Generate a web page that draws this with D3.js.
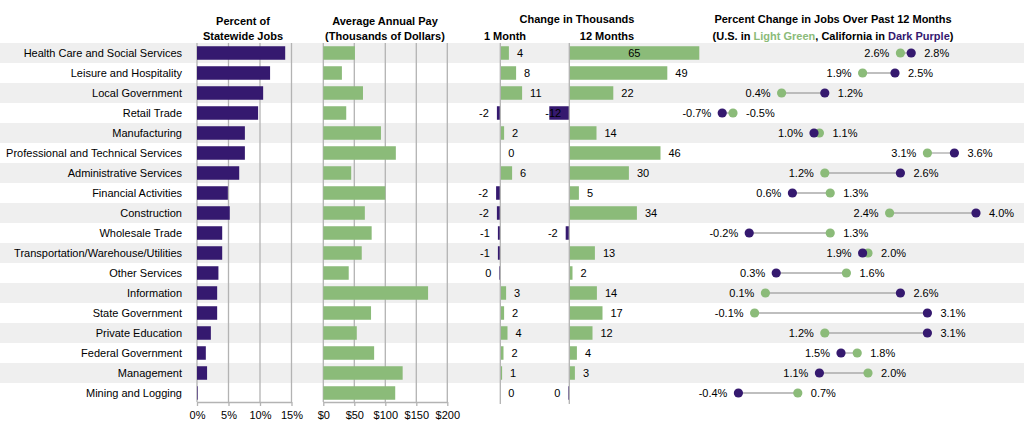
<!DOCTYPE html>
<html>
<head>
<meta charset="utf-8">
<script src="https://cdn.jsdelivr.net/npm/d3@7/dist/d3.min.js"></script>
<style>
  body { margin: 0; background: #fff; }
  text { font-family: Arial, "Liberation Sans", sans-serif; fill: #000; }
</style>
</head>
<body>
<div class="chart"></div>
<script>
var industries = [
    "Health Care and Social Services", "Leisure and Hospitality", "Local Government", "Retail Trade",
    "Manufacturing", "Professional and Technical Services", "Administrative Services", "Financial Activities",
    "Construction", "Wholesale Trade", "Transportation/Warehouse/Utilities", "Other Services",
    "Information", "State Government", "Private Education", "Federal Government", "Management", "Mining and Logging"
];
var shareOfJobs = [14.0, 11.6, 10.5, 9.7, 7.6, 7.6, 6.7, 4.9, 5.2, 4.0, 4.0, 3.4, 3.2, 3.2, 2.2, 1.4, 1.6, 0.1];
var avgPay = [51, 30, 64, 37, 93, 117, 45, 100, 67, 78, 62, 41, 169, 77, 54, 82, 128, 116];
var change1Month = [4.3, 7.9, 10.9, -1.7, 1.9, 0, 5.9, -2.1, -1.7, -1.2, -1.2, -0.5, 2.9, 1.9, 3.6, 1.6, 0.9, 0];
var change12Month = [65, 49, 22, -12, 13.6, 45.6, 29.8, 4.8, 33.8, -1.8, 12.8, 1.6, 13.8, 16.6, 11.6, 3.8, 2.8, -0.5];
var usChange = [2.6, 1.9, 0.4, -0.5, 1.1, 3.1, 1.2, 1.3, 2.4, 1.3, 2.0, 1.6, 0.1, -0.1, 1.2, 1.8, 2.0, 0.7];
var caChange = [2.8, 2.5, 1.2, -0.7, 1.0, 3.6, 2.6, 0.6, 4.0, -0.2, 1.9, 0.3, 2.6, 3.1, 3.1, 1.5, 1.1, -0.4];
var shareTicks = [0, 5, 10, 15];
var payTicks = [0, 50, 100, 150, 200];

var width = 1031;
var height = 441;
var purple = "#35196f";
var green = "#8bbb79";
var gridColor = "#b3b3b3";

var rows = industries.map(function(name, i) {
    return {
        name: name, share: shareOfJobs[i], pay: avgPay[i],
        m1: change1Month[i], m12: change12Month[i],
        us: usChange[i], ca: caChange[i], i: i
    };
});

var y = d3.scaleBand().domain(industries).range([43, 403]);
var barH = 13.5;
function yBar(d) { return y(d.name) + (y.bandwidth() - barH) / 2; }
function yMid(d) { return y(d.name) + y.bandwidth() / 2; }

var xShare = d3.scaleLinear().domain([0, 15]).range([197, 291.5]);
var xPay = d3.scaleLinear().domain([0, 200]).range([323.3, 447.3]);
var xM1 = d3.scaleLinear().domain([-5, 15]).range([490.3, 530.3]);
var xM12 = d3.scaleLinear().domain([-10, 65]).range([549.3, 699.3]).clamp(true);
var xPct = d3.scaleLinear().domain([-1, 4.5]).range([706, 1003]);

var svg = d3.select(".chart").append("svg")
    .attr("width", width)
    .attr("height", height);

// row shading
svg.append("g").selectAll("rect")
    .data(rows.filter(function(d) { return d.i % 2 === 0; }))
    .enter().append("rect")
    .attr("x", 0)
    .attr("y", function(d) { return y(d.name); })
    .attr("width", 1024)
    .attr("height", y.bandwidth())
    .attr("fill", "#efefef");

// row labels
svg.append("g").selectAll("text")
    .data(rows)
    .enter().append("text")
    .attr("x", 182)
    .attr("y", yMid)
    .attr("dy", "0.35em")
    .attr("text-anchor", "end")
    .style("font-size", "11px")
    .text(function(d) { return d.name; });

// headers
function header(x, yy, txt) {
    return svg.append("text")
        .attr("x", x).attr("y", yy)
        .attr("text-anchor", "middle")
        .style("font-size", "11px")
        .style("font-weight", "bold")
        .text(txt);
}
header(243, 25, "Percent of");
header(243, 40, "Statewide Jobs");
header(385, 25, "Average Annual Pay");
header(385, 40, "(Thousands of Dollars)");
header(577, 23, "Change in Thousands");
header(505, 40, "1 Month");
header(607, 40, "12 Months");
header(833, 23, "Percent Change in Jobs Over Past 12 Months");
var sub = header(833, 40, "");
sub.append("tspan").text("(U.S. in ");
sub.append("tspan").style("fill", green).text("Light Green");
sub.append("tspan").text(", California in ");
sub.append("tspan").style("fill", purple).text("Dark Purple");
sub.append("tspan").text(")");

// gridlines + axes for first two panels
function gridAxis(scale, ticks, fmt) {
    svg.append("g").selectAll("line")
        .data(ticks)
        .enter().append("line")
        .attr("x1", scale).attr("x2", scale)
        .attr("y1", 43).attr("y2", 402)
        .attr("stroke", gridColor)
        .attr("stroke-width", 1.3);
    var ax = svg.append("g")
        .attr("transform", "translate(0,402)")
        .call(d3.axisBottom(scale).tickValues(ticks).tickFormat(fmt).tickSize(4).tickSizeOuter(0));
    ax.selectAll("path, line").attr("stroke", gridColor).attr("stroke-width", 1.3);
    ax.selectAll("text").style("font-size", "11px").style("font-family", "Arial, 'Liberation Sans', sans-serif").attr("fill", "#000").attr("dy", "0.9em");
}
gridAxis(xShare, shareTicks, function(d) { return d + "%"; });
gridAxis(xPay, payTicks, function(d) { return "$" + d; });

// share bars
svg.append("g").selectAll("rect")
    .data(rows)
    .enter().append("rect")
    .attr("x", xShare(0))
    .attr("y", yBar)
    .attr("width", function(d) { return xShare(d.share) - xShare(0); })
    .attr("height", barH)
    .attr("fill", purple);

// pay bars
svg.append("g").selectAll("rect")
    .data(rows)
    .enter().append("rect")
    .attr("x", xPay(0))
    .attr("y", yBar)
    .attr("width", function(d) { return xPay(d.pay) - xPay(0); })
    .attr("height", barH)
    .attr("fill", green);

// change panels
function changePanel(scale, key, maxRight) {
    var x0 = scale(0);
    var g = svg.append("g");
    g.selectAll("rect")
        .data(rows)
        .enter().append("rect")
        .attr("x", function(d) { return Math.min(x0, scale(d[key])); })
        .attr("y", yBar)
        .attr("width", function(d) { return Math.abs(scale(d[key]) - x0); })
        .attr("height", barH)
        .attr("fill", function(d) { return d[key] < 0 ? purple : green; });
    g.append("line")
        .attr("x1", x0).attr("x2", x0)
        .attr("y1", 43).attr("y2", 404)
        .attr("stroke", gridColor)
        .attr("stroke-width", 1.3);
    g.selectAll("text")
        .data(rows)
        .enter().append("text")
        .attr("y", yMid)
        .attr("dy", "0.35em")
        .style("font-size", "11px")
        .attr("x", function(d) {
            var v = d[key], xe = scale(v);
            if (v < scale.domain()[0]) return xe - 4;
            if (v > maxRight) return (x0 + xe) / 2;
            return v < 0 ? xe - 8 : xe + 8;
        })
        .attr("text-anchor", function(d) {
            var v = d[key];
            if (v < scale.domain()[0]) return "start";
            if (v > maxRight) return "middle";
            return v < 0 ? "end" : "start";
        })
        .text(function(d) { return String(Math.round(d[key])); });
}
changePanel(xM1, "m1", 100);
changePanel(xM12, "m12", 55);

// dumbbells
var db = svg.append("g");
db.selectAll("line")
    .data(rows)
    .enter().append("line")
    .attr("x1", function(d) { return xPct(d.us); })
    .attr("x2", function(d) { return xPct(d.ca); })
    .attr("y1", yMid).attr("y2", yMid)
    .attr("stroke", "#aaa")
    .attr("stroke-width", 1.3);
db.selectAll("circle.us")
    .data(rows)
    .enter().append("circle")
    .attr("class", "us")
    .attr("cx", function(d) { return xPct(d.us); })
    .attr("cy", yMid)
    .attr("r", 4.6)
    .attr("fill", green);
db.selectAll("circle.ca")
    .data(rows)
    .enter().append("circle")
    .attr("class", "ca")
    .attr("cx", function(d) { return xPct(d.ca); })
    .attr("cy", yMid)
    .attr("r", 4.6)
    .attr("fill", purple);
function pct(v) { return v.toFixed(1) + "%"; }
db.selectAll("text.lo")
    .data(rows)
    .enter().append("text")
    .attr("x", function(d) { return xPct(Math.min(d.us, d.ca)) - 11; })
    .attr("y", yMid)
    .attr("dy", "0.35em")
    .attr("text-anchor", "end")
    .style("font-size", "11px")
    .text(function(d) { return pct(Math.min(d.us, d.ca)); });
db.selectAll("text.hi")
    .data(rows)
    .enter().append("text")
    .attr("x", function(d) { return xPct(Math.max(d.us, d.ca)) + 13; })
    .attr("y", yMid)
    .attr("dy", "0.35em")
    .style("font-size", "11px")
    .text(function(d) { return pct(Math.max(d.us, d.ca)); });
</script>
</body>
</html>
